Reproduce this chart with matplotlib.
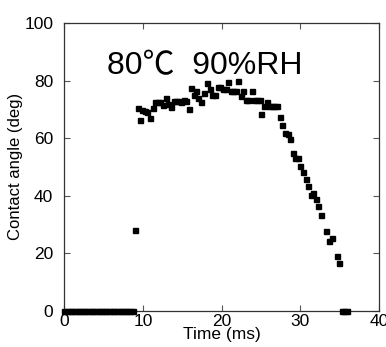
import matplotlib
matplotlib.use("Agg")
import matplotlib.pyplot as plt

# time (ms) and contact angle (deg)
time_zero = [0.0, 0.33, 0.67, 1.0, 1.33, 1.67, 2.0, 2.33, 2.67, 3.0, 3.33, 3.67,
             4.0, 4.33, 4.67, 5.0, 5.33, 5.67, 6.0, 6.33, 6.67, 7.0, 7.33, 7.67,
             8.0, 8.33, 8.67]
time_wet = [8.98, 9.3, 9.6, 9.9, 10.2, 10.55, 10.9, 11.2, 11.55, 11.9, 12.2, 12.55,
            12.85, 13.2, 13.55, 13.9, 14.2, 14.55, 14.85, 15.2, 15.5, 15.85, 16.15,
            16.5, 16.7, 17.0, 17.4, 17.75, 18.15, 18.5, 18.75, 19.15, 19.5, 19.8,
            20.1, 20.5, 20.8, 21.15, 21.45, 21.75, 22.1, 22.4, 22.75, 23.1, 23.4,
            23.8, 24.1, 24.45, 24.8, 25.05, 25.4, 25.7, 26.0, 26.35, 26.7, 27.0,
            27.4, 27.7, 28.0, 28.4, 28.7, 29.0, 29.35, 29.65, 30.0, 30.35, 30.7,
            31.0, 31.3, 31.65, 32.0, 32.3, 32.6, 33.3, 33.65, 34.0, 34.6, 34.95]
angle_wet = [28.2, 70.3, 66.3, 69.8, 69.4, 68.9, 66.9, 70.6, 72.4, 72.7, 72.7, 71.4,
             73.9, 72.0, 70.7, 72.9, 72.9, 72.9, 72.4, 73.3, 72.9, 70.0, 77.5,
             74.9, 76.5, 73.8, 72.4, 75.8, 79.3, 77.2, 74.9, 74.9, 77.9, 77.9,
             77.2, 77.2, 79.6, 76.2, 76.2, 76.2, 80.0, 74.7, 76.3, 73.3, 73.3,
             76.3, 73.3, 73.3, 73.3, 68.2, 71.2, 72.6, 71.2, 71.2, 71.2, 71.2,
             67.5, 64.5, 61.9, 61.4, 59.8, 54.7, 53.1, 53.1, 50.4, 48.2, 45.8,
             43.4, 40.2, 40.8, 38.7, 36.3, 33.3, 27.6, 24.4, 25.3, 18.9, 16.6]
time_end = [35.3, 35.6, 35.95]

times = time_zero + time_wet + time_end
angles = [0.0] * len(time_zero) + angle_wet + [0.0] * len(time_end)

plt.rcParams['font.family'] = ['Liberation Sans', 'Noto Sans CJK JP', 'DejaVu Sans']

fig = plt.figure(figsize=(3.86, 3.47), dpi=100)
ax = fig.add_axes([0.167, 0.104, 0.815, 0.83])

ax.plot(times, angles, linestyle="none", marker="s", markersize=3.6,
        color="black", clip_on=False, zorder=3)

ax.set_xlim(0, 40)
ax.set_ylim(0, 100)
ax.set_xticks([0, 10, 20, 30, 40])
ax.set_yticks([0, 20, 40, 60, 80, 100])
ax.tick_params(direction="in", length=4, width=0.8, labelsize=12.5,
               top=True, right=True, color="#555555")
ax.tick_params(axis="x", pad=2)
ax.tick_params(axis="y", pad=8)
for s in ax.spines.values():
    s.set_linewidth(0.9)
    s.set_color("#333333")

ax.set_xlabel("Time (ms)", fontsize=12.5, labelpad=-1)
ax.set_ylabel("Contact angle (deg)", fontsize=12, labelpad=1)

ax.text(5.4, 82.3, "80℃  90%RH", fontsize=23, color="black")

fig.savefig("out.png", dpi=100)
